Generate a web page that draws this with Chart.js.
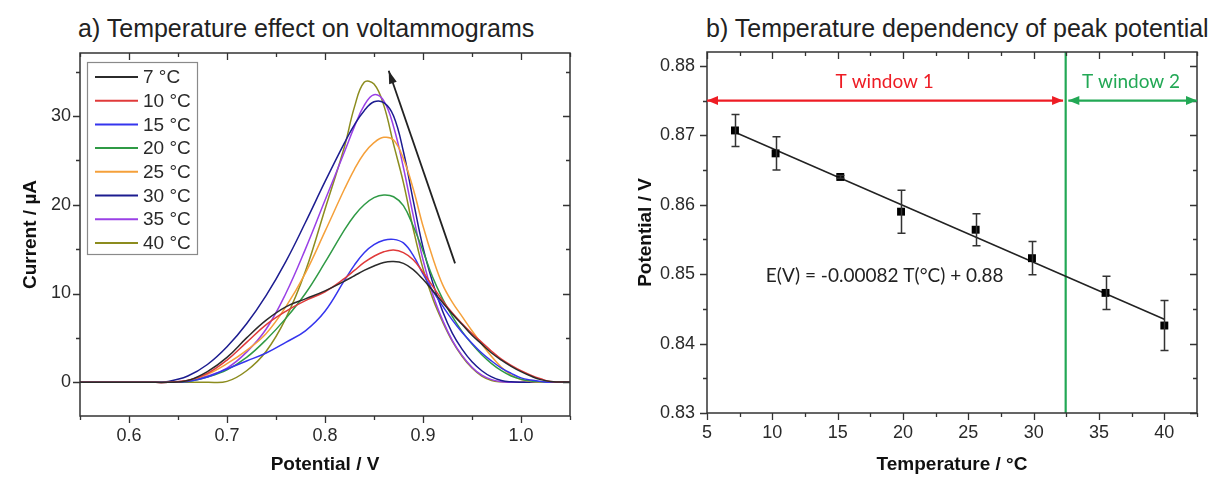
<!DOCTYPE html>
<html>
<head>
<meta charset="utf-8">
<script src="https://cdn.jsdelivr.net/npm/chart.js@4"></script>
<style>
  body { margin: 0; background: #fff; width: 1215px; height: 477px; position: relative; overflow: hidden; font-family: "Liberation Sans", Arial, sans-serif; }
  .title { position: absolute; top: 14px; font-size: 25px; color: #222; white-space: nowrap; }
  canvas { position: absolute; top: 0; }
</style>
</head>
<body>
<div class="title" style="left:78px">a) Temperature effect on voltammograms</div>
<div class="title" style="left:706px">b) Temperature dependency of peak potential</div>
<canvas id="cv" width="600" height="477" style="left:0"></canvas>
<canvas id="tp" width="615" height="477" style="left:600px"></canvas>
<script>
// ---- a) voltammograms ----
const potential = [0.55, 0.60, 0.62, 0.64, 0.66, 0.68, 0.70, 0.72, 0.74, 0.76, 0.78, 0.80, 0.82, 0.83, 0.84, 0.85, 0.86, 0.87,
  0.88, 0.89, 0.90, 0.91, 0.92, 0.93, 0.94, 0.95, 0.96, 0.97, 0.98, 0.99, 1.00, 1.01, 1.02, 1.03, 1.05];
const tempLabels = ['7 °C', '10 °C', '15 °C', '20 °C', '25 °C', '30 °C', '35 °C', '40 °C'];
const c7 = [0, 0, 0, 0, 0.2, 1.2, 2.8, 5.0, 7.0, 8.5, 9.4, 10.3, 11.4, 12.0, 12.6, 13.1, 13.5, 13.6,
  13.4, 12.7, 11.6, 10.3, 9.0, 7.7, 6.5, 5.3, 4.3, 3.3, 2.5, 1.8, 1.2, 0.7, 0.3, 0.1, 0];
const c10 = [0, 0, 0, 0, 0.2, 1.0, 2.5, 4.5, 6.5, 8.0, 9.2, 10.2, 11.7, 12.6, 13.5, 14.2, 14.7, 14.9,
  14.6, 13.8, 12.4, 10.8, 9.2, 7.8, 6.6, 5.5, 4.5, 3.5, 2.6, 1.9, 1.3, 0.8, 0.4, 0.1, 0];
const c15 = [0, 0, 0, 0, 0.1, 0.6, 1.5, 2.4, 3.3, 4.5, 5.8, 8.0, 11.5, 13.2, 14.6, 15.5, 16.0, 16.1,
  15.7, 14.3, 12.2, 10.3, 8.6, 7.0, 5.6, 4.4, 3.3, 2.4, 1.6, 1.0, 0.5, 0.25, 0.1, 0, 0];
const c20 = [0, 0, 0, 0, 0.1, 0.6, 1.4, 2.8, 4.8, 7.2, 10.0, 13.5, 17.2, 18.8, 20.0, 20.8, 21.1, 20.9,
  19.9, 17.6, 14.8, 11.8, 9.4, 7.4, 5.7, 4.3, 3.1, 2.1, 1.3, 0.7, 0.35, 0.15, 0.05, 0, 0];
const c25 = [0, 0, 0, 0, 0.2, 0.9, 2.1, 3.6, 5.5, 8.5, 12.3, 17.0, 21.8, 24.0, 25.8, 27.0, 27.6, 27.3,
  25.2, 21.8, 17.6, 14.0, 11.0, 9.0, 7.4, 5.8, 4.3, 2.9, 1.7, 0.8, 0.3, 0.1, 0, 0, 0];
const c30 = [0, 0, 0, 0.1, 0.7, 2.0, 4.0, 6.6, 9.8, 13.6, 18.0, 22.6, 27.0, 29.0, 30.6, 31.6, 31.5, 30.0,
  26.0, 20.5, 15.2, 11.2, 8.0, 5.5, 3.7, 2.3, 1.3, 0.6, 0.2, 0.05, 0, 0, 0, 0, 0];
const c35 = [0, 0, 0, 0, 0.2, 0.7, 1.6, 3.4, 6.0, 10.0, 15.0, 20.5, 26.0, 28.8, 31.2, 32.4, 31.7, 28.8,
  24.2, 18.8, 13.8, 9.9, 7.0, 4.7, 3.0, 1.7, 0.8, 0.3, 0.05, 0, 0, 0, 0, 0, 0];
const c40 = [0, 0, 0, 0, 0, 0, 0.1, 1.3, 3.5, 7.2, 12.5, 19.5, 26.6, 31.0, 33.8, 33.6, 31.2, 26.8,
  22.5, 17.3, 12.8, 9.4, 6.8, 4.6, 2.9, 1.6, 0.7, 0.2, 0.05, 0, 0, 0, 0, 0, 0];
const potTicks = [0.6, 0.7, 0.8, 0.9, 1.0];
const currentTicks = [0, 10, 20, 30];
// arrow in panel a: tail -> head (potential, current)
const trendArrow = [[0.9327, 13.4], [0.865, 35.1]];

// ---- b) peak potential ----
const tempC = [7.14, 10.25, 15.2, 19.85, 25.56, 29.87, 35.5, 40.0];
const peakE = [0.8707, 0.8674, 0.8640, 0.8590, 0.8564, 0.8523, 0.8473, 0.8426];
const peakErr = [0.0023, 0.0024, 0.0002, 0.0031, 0.0023, 0.0024, 0.0024, 0.0036];
const fitT = [7.19, 40];
const fitE = [0.8704, 0.8435];
const windowSplit = 32.45;
const windowArrowE = 0.875;
const tempTicks = [5, 10, 15, 20, 25, 30, 35, 40];
const potE_Ticks = [0.83, 0.84, 0.85, 0.86, 0.87, 0.88];

const curves = [c7, c10, c15, c20, c25, c30, c35, c40];
const curveColors = ['#2b2b2b', '#e03a3a', '#3535ee', '#2f9a45', '#f5a03a', '#1c1c90', '#9a40e6', '#8c8c1e'];
const textColor = '#2a2a2a';
const tickFont = { family: '"Liberation Sans", Arial, sans-serif', size: 18 };
const titleFont = { family: '"Liberation Sans", Arial, sans-serif', size: 19, weight: 'bold' };

function minorsOf(majors, min, max) {
  const step = majors[1] - majors[0];
  const out = [];
  for (let v = majors[0] - step / 2; v <= max + 1e-9; v += step / 2) {
    if (v >= min - 1e-9 && !majors.some(m => Math.abs(m - v) < 1e-9)) out.push(v);
  }
  return out;
}

const frame = {
  id: 'frame',
  afterDatasetsDraw(chart) {
    const { ctx, chartArea: a, scales: { x, y } } = chart;
    ctx.save();
    ctx.strokeStyle = '#333';
    ctx.lineWidth = 1.5;
    ctx.strokeRect(a.left, a.top, a.right - a.left, a.bottom - a.top);
    ctx.lineWidth = 1.3;
    ctx.beginPath();
    const xs = x.ticks.map(t => t.value);
    const ys = y.ticks.map(t => t.value);
    const xm = minorsOf(xs, x.min, x.max);
    const ym = minorsOf(ys, y.min, y.max);
    const vx = (vals, len) => vals.forEach(v => {
      const p = Math.round(x.getPixelForValue(v)) + 0.5;
      ctx.moveTo(p, a.bottom); ctx.lineTo(p, a.bottom + len);
      ctx.moveTo(p, a.top); ctx.lineTo(p, a.top + len);
    });
    const hy = (vals, len) => vals.forEach(v => {
      const p = Math.round(y.getPixelForValue(v)) + 0.5;
      ctx.moveTo(a.left, p); ctx.lineTo(a.left - len, p);
      ctx.moveTo(a.right, p); ctx.lineTo(a.right - len, p);
    });
    vx(xs, 7); vx(xm, 4); hy(ys, 7); hy(ym, 4);
    ctx.stroke();
    ctx.restore();
  }
};

function drawHead(ctx, x1, y1, x2, y2, len, half) {
  const ang = Math.atan2(y2 - y1, x2 - x1);
  const c = Math.cos(ang), s = Math.sin(ang);
  ctx.beginPath();
  ctx.moveTo(x2, y2);
  ctx.lineTo(x2 - len * c + half * s, y2 - len * s - half * c);
  ctx.lineTo(x2 - len * c - half * s, y2 - len * s + half * c);
  ctx.closePath();
  ctx.fill();
}

const arrows = {
  id: 'arrows',
  afterDatasetsDraw(chart, args, opts) {
    const { ctx, scales: { x, y } } = chart;
    ctx.save();
    (opts.items || []).forEach(it => {
      const x1 = x.getPixelForValue(it.from[0]), y1 = y.getPixelForValue(it.from[1]);
      const x2 = x.getPixelForValue(it.to[0]), y2 = y.getPixelForValue(it.to[1]);
      ctx.strokeStyle = it.color; ctx.fillStyle = it.color; ctx.lineWidth = it.width;
      ctx.beginPath(); ctx.moveTo(x1, y1); ctx.lineTo(x2, y2); ctx.stroke();
      drawHead(ctx, x1, y1, x2, y2, it.len, it.half);
      if (it.both) drawHead(ctx, x2, y2, x1, y1, it.len, it.half);
    });
    ctx.restore();
  }
};

const notes = {
  id: 'notes',
  afterDatasetsDraw(chart, args, opts) {
    const { ctx, scales: { x, y } } = chart;
    ctx.save();
    ctx.textAlign = 'center';
    ctx.textBaseline = 'middle';
    (opts.items || []).forEach(it => {
      ctx.font = it.font;
      ctx.fillStyle = it.color;
      ctx.fillText(it.text, x.getPixelForValue(it.x), y.getPixelForValue(it.y));
    });
    ctx.restore();
  }
};

const boxLegend = {
  id: 'boxLegend',
  afterDraw(chart) {
    const { ctx } = chart;
    const sets = chart.data.datasets;
    ctx.save();
    ctx.fillStyle = '#fff';
    ctx.fillRect(87, 62, 110, 192);
    ctx.strokeStyle = '#8a8a8a';
    ctx.lineWidth = 1.2;
    ctx.strokeRect(87.5, 62.5, 110, 192);
    ctx.font = '19px "Liberation Sans", Arial, sans-serif';
    ctx.textBaseline = 'middle';
    sets.forEach((d, i) => {
      const yy = 77 + i * 23.7;
      ctx.strokeStyle = d.borderColor;
      ctx.lineWidth = 2;
      ctx.beginPath(); ctx.moveTo(95, yy); ctx.lineTo(138, yy); ctx.stroke();
      ctx.fillStyle = textColor;
      ctx.fillText(d.label, 143, yy + 1);
    });
    ctx.restore();
  }
};

const errorBars = {
  id: 'errorBars',
  afterDatasetsDraw(chart) {
    const { ctx, scales: { x, y } } = chart;
    ctx.save();
    ctx.strokeStyle = '#333';
    ctx.lineWidth = 1.5;
    ctx.beginPath();
    tempC.forEach((t, i) => {
      const px = Math.round(x.getPixelForValue(t)) + 0.5;
      const top = y.getPixelForValue(peakE[i] + peakErr[i]);
      const bot = y.getPixelForValue(peakE[i] - peakErr[i]);
      ctx.moveTo(px, top); ctx.lineTo(px, bot);
      ctx.moveTo(px - 4, top); ctx.lineTo(px + 4, top);
      ctx.moveTo(px - 4, bot); ctx.lineTo(px + 4, bot);
    });
    ctx.stroke();
    ctx.restore();
  }
};

function axisX(min, max, ticks, fmt, height, pad, title) {
  return {
    type: 'linear', min, max,
    afterBuildTicks: s => { s.ticks = ticks.map(v => ({ value: v })); },
    afterFit: s => { s.height = height; },
    grid: { display: false, drawTicks: false },
    border: { display: false },
    ticks: { padding: pad, font: tickFont, color: textColor, autoSkip: false, maxRotation: 0, callback: fmt },
    title: { display: true, text: title, font: titleFont, color: '#111', padding: { top: 0, bottom: 1 } }
  };
}
function axisY(min, max, ticks, fmt, width, pad, title, tpad) {
  return {
    type: 'linear', min, max,
    afterBuildTicks: s => { s.ticks = ticks.map(v => ({ value: v })); },
    afterFit: s => { s.width = width; },
    grid: { display: false, drawTicks: false },
    border: { display: false },
    ticks: { padding: pad, font: tickFont, color: textColor, autoSkip: false, callback: fmt },
    title: { display: true, text: title, font: titleFont, color: '#111', padding: { top: tpad, bottom: 0 } }
  };
}

new Chart(document.getElementById('cv'), {
  type: 'line',
  data: {
    datasets: curves.map((s, i) => ({
      label: tempLabels[i],
      data: potential.map((v, j) => ({ x: v, y: s[j] })),
      borderColor: curveColors[i],
      borderWidth: 1.5,
      pointRadius: 0,
      tension: 0.4,
      fill: false
    }))
  },
  options: {
    responsive: false, animation: false, devicePixelRatio: 1,
    layout: { padding: { top: 53, right: 30, left: 0, bottom: 0 } },
    plugins: {
      legend: { display: false }, tooltip: { enabled: false },
      arrows: { items: [{ from: trendArrow[0], to: trendArrow[1], color: '#222', width: 1.8, len: 13, half: 4 }] }
    },
    scales: {
      x: axisX(0.55, 1.05, potTicks, v => v.toFixed(1), 61, 9, 'Potential / V'),
      y: axisY(-3.8, 37.1, currentTicks, v => String(v), 80, 9, 'Current / µA', 19)
    }
  },
  plugins: [frame, arrows, boxLegend]
});

new Chart(document.getElementById('tp'), {
  type: 'scatter',
  data: {
    datasets: [
      {
        data: tempC.map((t, i) => ({ x: t, y: peakE[i] })),
        pointStyle: 'rect', pointRadius: 5.6, backgroundColor: '#000', borderColor: '#000', borderWidth: 0
      },
      {
        data: fitT.map((t, i) => ({ x: t, y: fitE[i] })),
        showLine: true, pointRadius: 0, borderColor: '#222', borderWidth: 1.5
      },
      {
        data: [{ x: windowSplit, y: 0.83 }, { x: windowSplit, y: 0.882 }],
        showLine: true, pointRadius: 0, borderColor: '#22a855', borderWidth: 2.2
      }
    ]
  },
  options: {
    responsive: false, animation: false, devicePixelRatio: 1,
    layout: { padding: { top: 52, right: 18, left: 0, bottom: 0 } },
    plugins: {
      legend: { display: false }, tooltip: { enabled: false },
      arrows: {
        items: [
          { from: [5, windowArrowE], to: [windowSplit - 0.2, windowArrowE], color: '#ee1c24', width: 2.2, len: 11, half: 4.5, both: true },
          { from: [windowSplit + 0.2, windowArrowE], to: [42.5, windowArrowE], color: '#22a855', width: 2.2, len: 11, half: 4.5, both: true }
        ]
      },
      notes: {
        items: [
          { text: 'T window 1', x: 18.6, y: 0.8777, color: '#ee1c24', font: '19px Lato, "Open Sans", sans-serif' },
          { text: 'T window 2', x: 37.45, y: 0.8777, color: '#22a855', font: '19px Lato, "Open Sans", sans-serif' },
          { text: 'E(V) = -0.00082 T(°C) + 0.88', x: 18.6, y: 0.8497, color: '#222', font: '19px Lato, "Open Sans", sans-serif' }
        ]
      }
    },
    scales: {
      x: axisX(5, 42.5, tempTicks, v => String(v), 64, 9, 'Temperature / °C'),
      y: axisY(0.83, 0.882, potE_Ticks, v => v.toFixed(2), 107, 12, 'Potential / V', 34)
    }
  },
  plugins: [frame, errorBars, arrows, notes]
});
</script>
</body>
</html>
